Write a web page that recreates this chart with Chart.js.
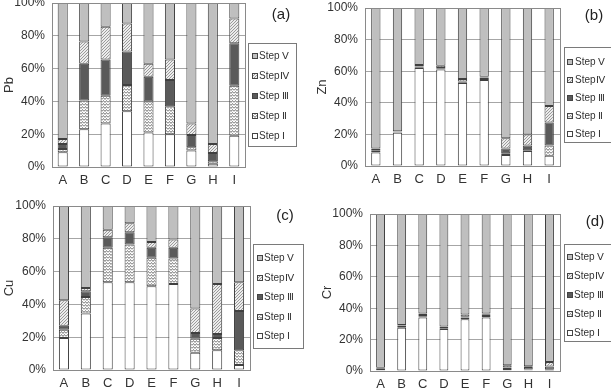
<!DOCTYPE html>
<html>
<head>
<meta charset="utf-8">
<script src="https://cdn.jsdelivr.net/npm/chart.js@4.4.0/dist/chart.umd.min.js"></script>
<style>
html, body { margin: 0; padding: 0; background: #fff; overflow: hidden; width: 611px; height: 390px; }
body { position: relative; }
canvas { position: absolute; }
</style>
</head>
<body>
<canvas id="pb"></canvas>
<canvas id="zn"></canvas>
<canvas id="cu"></canvas>
<canvas id="cr"></canvas>
<script>
const categories = ['A', 'B', 'C', 'D', 'E', 'F', 'G', 'H', 'I'];
const stepLabels = ['Step Ⅰ', 'Step Ⅱ', 'Step Ⅲ', 'StepⅣ', 'Step Ⅴ'];
const yTickLabels = ['0%', '20%', '40%', '60%', '80%', '100%'];

// Pb (a)
const pbStep1 = [9, 23, 26.5, 34, 21, 20, 10, 2, 19];
const pbStep2 = [2, 17.5, 17, 16, 19, 17, 2, 1.5, 30.5];
const pbStep3 = [3, 22.5, 22, 20.5, 15, 16, 7.5, 5, 26];
const pbStep4 = [3, 13.5, 20, 17, 8, 12.5, 7, 5.5, 15];
const pbStep5 = [83, 23.5, 14.5, 12.5, 37, 34.5, 73.5, 86, 9.5];

// Zn (b)
const znStep1 = [8.5, 21, 62, 61, 52.5, 54.5, 7, 9.5, 6.5];
const znStep2 = [1, 0.3, 0.5, 0.5, 0.5, 0.5, 1, 0.5, 6.5];
const znStep3 = [0.5, 0.5, 0.5, 0.5, 0.5, 1, 3, 3, 14.5];
const znStep4 = [1, 0.2, 1, 1.5, 1.5, 0.5, 6.5, 7, 10.5];
const znStep5 = [89, 78, 36, 36.5, 45, 43.5, 82.5, 80, 62];

// Cu (c)
const cuStep1 = [19.5, 34.5, 53.5, 53.5, 51, 52.5, 10.5, 12, 3];
const cuStep2 = [5, 10, 21, 23, 17.5, 15.5, 8.5, 7.5, 9];
const cuStep3 = [2.5, 3.5, 6.5, 7.5, 6, 6.5, 3.5, 2.5, 24];
const cuStep4 = [15.5, 2, 4.5, 5.5, 3.5, 5, 15, 30.5, 17.5];
const cuStep5 = [57.5, 50, 14.5, 10.5, 22, 20.5, 62.5, 47.5, 46.5];

// Cr (d)
const crStep1 = [0.3, 27.5, 34, 26.8, 33, 34, 0.5, 0.5, 0.3];
const crStep2 = [0.2, 0.5, 0.8, 0.5, 1, 1, 0.7, 0.5, 0.5];
const crStep3 = [1.2, 1, 0.8, 0.7, 0.5, 0.8, 1, 1.5, 2];
const crStep4 = [0.3, 0.3, 1, 0.3, 1.5, 0.8, 1.5, 0.5, 3];
const crStep5 = [98, 70.7, 63.4, 71.7, 64, 63.4, 96.3, 97, 94.2];

function makePattern(kind) {
    const c = document.createElement('canvas');
    const ctx = c.getContext('2d');
    if (kind === 'dots') {
        c.width = 3; c.height = 3;
        ctx.fillStyle = '#ececec';
        ctx.fillRect(0, 0, 3, 3);
        ctx.fillStyle = '#9a9a9a';
        ctx.fillRect(0, 0, 1, 1);
        ctx.fillRect(2, 1, 1, 1);
        ctx.fillRect(1, 2, 1, 1);
    } else {
        c.width = 6; c.height = 3;
        ctx.fillStyle = '#ffffff';
        ctx.fillRect(0, 0, 6, 3);
        ctx.strokeStyle = '#7a7a7a';
        ctx.lineWidth = 1;
        ctx.beginPath();
        ctx.moveTo(0, 2.5);
        ctx.lineTo(1.5, 0.5);
        ctx.lineTo(3, 2.5);
        ctx.lineTo(4.5, 0.5);
        ctx.lineTo(6, 2.5);
        ctx.stroke();
    }
    return ctx.createPattern(c, 'repeat');
}

const stepFills = ['#ffffff', makePattern('zigzag'), '#5a5a5a', makePattern('dots'), '#bfbfbf'];
const fontFamily = "'Liberation Sans', Arial, sans-serif";

// draws plot frame, custom legend and panel tag
const panelDecor = {
    id: 'panelDecor',
    afterDraw(chart, args, opts) {
        const ctx = chart.ctx;
        const a = chart.chartArea;
        ctx.save();
        ctx.strokeStyle = '#8a8a8a';
        ctx.lineWidth = 1;
        ctx.strokeRect(Math.round(a.left) + 0.5, Math.round(a.top) + 0.5,
            Math.round(a.right - a.left), Math.round(a.bottom - a.top));

        const lg = opts.legend;
        ctx.strokeStyle = '#7a7a7a';
        ctx.strokeRect(lg.x + 0.5, lg.y + 0.5, lg.w, lg.h);
        ctx.font = '10px ' + fontFamily;
        ctx.textBaseline = 'middle';
        for (let k = 0; k < 5; k++) {
            const ds = chart.data.datasets[4 - k];
            const y = Math.round(lg.row0 + k * lg.step);
            ctx.fillStyle = ds.backgroundColor;
            ctx.fillRect(lg.sx, y - 3, 6, 6);
            ctx.strokeStyle = '#444';
            ctx.strokeRect(lg.sx + 0.5, y - 2.5, 5, 5);
            ctx.fillStyle = '#333';
            ctx.fillText(ds.label, lg.tx, y);
        }

        ctx.font = '15px ' + fontFamily;
        ctx.textAlign = 'center';
        ctx.fillStyle = '#222';
        ctx.fillText(opts.tag, opts.tagX, opts.tagY);
        ctx.restore();
    }
};

function drawPanel(id, p) {
    const el = document.getElementById(id);
    el.style.left = p.cx + 'px';
    el.style.top = p.cy + 'px';
    el.width = p.cw;
    el.height = p.ch;
    el.style.width = p.cw + 'px';
    el.style.height = p.ch + 'px';

    const xAxisH = 22;
    const padLeft = p.titleX - p.cx - 7.8;
    const yAxisW = p.L - p.cx - padLeft;

    new Chart(el, {
        type: 'bar',
        data: {
            labels: categories,
            datasets: p.series.map((vals, i) => ({
                label: stepLabels[i],
                data: vals,
                backgroundColor: stepFills[i],
                borderColor: '#404040',
                borderWidth: 1,
                borderSkipped: false,
                barPercentage: 1,
                categoryPercentage: p.barFrac
            }))
        },
        options: {
            responsive: false,
            animation: false,
            devicePixelRatio: 1,
            layout: {
                padding: {
                    left: padLeft,
                    right: p.cx + p.cw - p.R,
                    top: p.T - p.cy,
                    bottom: p.cy + p.ch - p.B - xAxisH
                }
            },
            plugins: {
                legend: { display: false },
                tooltip: { enabled: false },
                panelDecor: {
                    tag: p.tag,
                    tagX: p.tagX - p.cx,
                    tagY: p.tagY - p.cy,
                    legend: {
                        x: p.lg.x - p.cx, y: p.lg.y - p.cy, w: p.lg.w, h: p.lg.h,
                        sx: p.lg.sx - p.cx, tx: p.lg.tx - p.cx,
                        row0: p.lg.row0 - p.cy, step: p.lg.step
                    }
                }
            },
            scales: {
                x: {
                    stacked: true,
                    grid: { display: false, drawTicks: false },
                    border: { display: false },
                    ticks: { color: '#333', font: { size: 13, family: fontFamily }, padding: 6 },
                    afterFit: (s) => { s.height = xAxisH; }
                },
                y: {
                    stacked: true,
                    min: 0,
                    max: 100,
                    grid: { color: '#a6a6a6', drawTicks: false },
                    border: { display: false },
                    ticks: {
                        stepSize: 20,
                        padding: 7,
                        color: '#333',
                        font: { size: 12, family: fontFamily },
                        callback: (v, i) => yTickLabels[i]
                    },
                    title: {
                        display: true,
                        text: p.title,
                        color: '#333',
                        padding: 0,
                        font: { size: 13, family: fontFamily }
                    },
                    afterFit: (s) => { s.width = yAxisW; }
                }
            }
        },
        plugins: [panelDecor]
    });
}

drawPanel('pb', {
    cx: 0, cy: -20, cw: 305, ch: 215,
    L: 52, R: 245, T: 3, B: 167, titleX: 9, barFrac: 0.47,
    title: 'Pb', tag: '(a)', tagX: 281, tagY: 15,
    lg: { x: 248, y: 43, w: 48, h: 103, sx: 252, tx: 259, row0: 56, step: 20 },
    series: [pbStep1, pbStep2, pbStep3, pbStep4, pbStep5]
});
drawPanel('zn', {
    cx: 305, cy: -20, cw: 306, ch: 215,
    L: 365, R: 560, T: 8, B: 166, titleX: 322, barFrac: 0.43,
    title: 'Zn', tag: '(b)', tagX: 594, tagY: 16,
    lg: { x: 564, y: 47, w: 60, h: 95, sx: 567, tx: 575, row0: 62, step: 18 },
    series: [znStep1, znStep2, znStep3, znStep4, znStep5]
});
drawPanel('cu', {
    cx: 0, cy: 175, cw: 305, ch: 225,
    L: 53, R: 250, T: 206, B: 370, titleX: 9, barFrac: 0.46,
    title: 'Cu', tag: '(c)', tagX: 285, tagY: 216,
    lg: { x: 253, y: 244, w: 50, h: 104, sx: 257, tx: 264, row0: 258, step: 19.5 },
    series: [cuStep1, cuStep2, cuStep3, cuStep4, cuStep5]
});
drawPanel('cr', {
    cx: 305, cy: 175, cw: 306, ch: 225,
    L: 370, R: 560, T: 214, B: 371, titleX: 327, barFrac: 0.42,
    title: 'Cr', tag: '(d)', tagX: 595, tagY: 222,
    lg: { x: 564, y: 244, w: 60, h: 97, sx: 567, tx: 574, row0: 257, step: 19 },
    series: [crStep1, crStep2, crStep3, crStep4, crStep5]
});
</script>
</body>
</html>
